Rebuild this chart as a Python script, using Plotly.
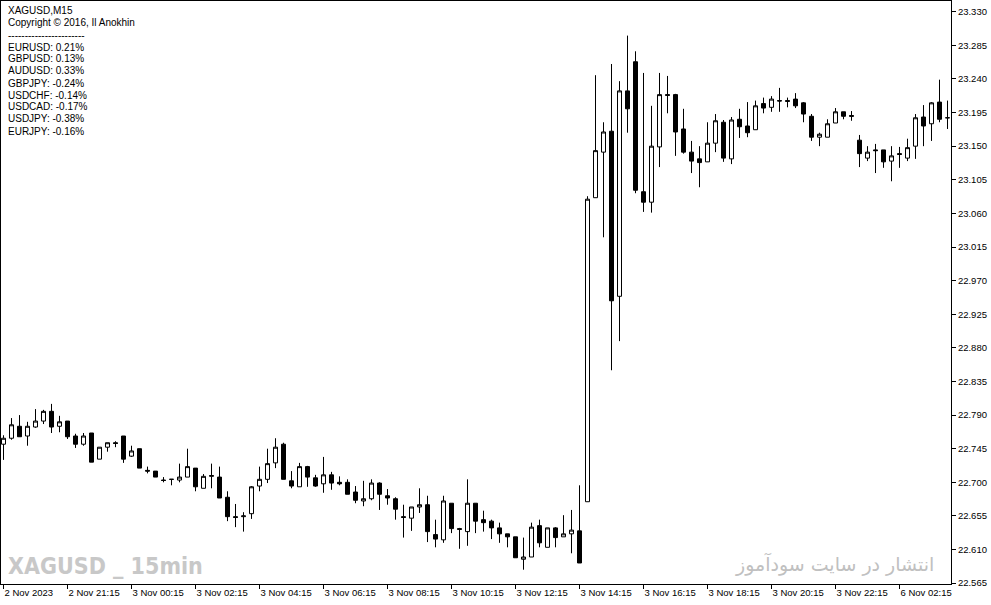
import plotly.graph_objects as go

# ---------------- data (XAGUSD, M15) ----------------
opens = [22.751, 22.759, 22.775, 22.762, 22.774, 22.782, 22.795, 22.775, 22.782, 22.762,
         22.751, 22.766, 22.731, 22.747, 22.753, 22.762, 22.735, 22.745, 22.716, 22.715,
         22.703, 22.704, 22.703, 22.707, 22.719, 22.692, 22.708, 22.707, 22.680, 22.654,
         22.654, 22.658, 22.695, 22.704, 22.726, 22.751, 22.702, 22.694, 22.721, 22.706,
         22.698, 22.710, 22.700, 22.700, 22.687, 22.675, 22.678, 22.699, 22.682, 22.678,
         22.654, 22.652, 22.667, 22.670, 22.630, 22.623, 22.672, 22.638, 22.634, 22.672,
         22.650, 22.648, 22.639, 22.631, 22.627, 22.597, 22.600, 22.642, 22.613, 22.639,
         22.627, 22.631, 22.635, 22.674, 23.081, 23.142, 23.170, 22.949, 23.224, 23.263,
         23.089, 23.075, 23.149, 23.219, 23.219, 23.173, 23.142, 23.133, 23.129, 23.154,
         23.182, 23.133, 23.186, 23.177, 23.172, 23.207, 23.202, 23.211, 23.211, 23.213,
         23.208, 23.190, 23.162, 23.162, 23.181, 23.196, 23.191, 23.158, 23.134, 23.145,
         23.145, 23.130, 23.140, 23.134, 23.150, 23.189, 23.180, 23.209, 23.188]
highs = [22.763, 22.786, 22.790, 22.781, 22.798, 22.797, 22.805, 22.789, 22.782, 22.765,
         22.766, 22.766, 22.747, 22.753, 22.755, 22.762, 22.749, 22.745, 22.721, 22.715,
         22.707, 22.704, 22.725, 22.745, 22.719, 22.711, 22.725, 22.721, 22.688, 22.671,
         22.660, 22.695, 22.721, 22.745, 22.759, 22.753, 22.715, 22.726, 22.722, 22.710,
         22.734, 22.714, 22.708, 22.704, 22.695, 22.702, 22.704, 22.700, 22.691, 22.680,
         22.670, 22.667, 22.692, 22.682, 22.650, 22.682, 22.672, 22.639, 22.704, 22.672,
         22.662, 22.650, 22.646, 22.631, 22.627, 22.626, 22.646, 22.650, 22.639, 22.640,
         22.656, 22.663, 22.696, 23.083, 23.245, 23.182, 23.260, 23.237, 23.298, 23.277,
         23.248, 23.204, 23.248, 23.244, 23.220, 23.200, 23.157, 23.150, 23.182, 23.193,
         23.185, 23.189, 23.200, 23.209, 23.211, 23.215, 23.217, 23.228, 23.215, 23.221,
         23.209, 23.193, 23.168, 23.186, 23.201, 23.196, 23.197, 23.165, 23.150, 23.153,
         23.145, 23.150, 23.149, 23.160, 23.193, 23.205, 23.209, 23.239, 23.211]
lows = [22.730, 22.757, 22.761, 22.749, 22.773, 22.778, 22.766, 22.767, 22.758, 22.746,
        22.749, 22.727, 22.731, 22.741, 22.747, 22.726, 22.734, 22.719, 22.712, 22.707,
        22.700, 22.696, 22.700, 22.707, 22.688, 22.692, 22.692, 22.679, 22.648, 22.640,
        22.634, 22.651, 22.688, 22.699, 22.719, 22.704, 22.692, 22.694, 22.694, 22.694,
        22.686, 22.690, 22.696, 22.684, 22.672, 22.668, 22.676, 22.663, 22.670, 22.650,
        22.626, 22.635, 22.659, 22.620, 22.613, 22.619, 22.632, 22.611, 22.615, 22.632,
        22.634, 22.624, 22.619, 22.613, 22.599, 22.583, 22.600, 22.613, 22.613, 22.613,
        22.627, 22.605, 22.592, 22.674, 23.081, 23.028, 22.850, 22.889, 23.168, 23.087,
        23.062, 23.061, 23.122, 23.194, 23.137, 23.140, 23.114, 23.095, 23.129, 23.142,
        23.129, 23.126, 23.161, 23.162, 23.172, 23.194, 23.196, 23.196, 23.202, 23.201,
        23.182, 23.157, 23.150, 23.162, 23.181, 23.186, 23.184, 23.122, 23.130, 23.114,
        23.121, 23.103, 23.121, 23.130, 23.133, 23.150, 23.157, 23.182, 23.173]
closes = [22.759, 22.777, 22.761, 22.775, 22.782, 22.795, 22.774, 22.781, 22.761, 22.751,
          22.762, 22.727, 22.747, 22.753, 22.752, 22.731, 22.742, 22.719, 22.715, 22.707,
          22.7025, 22.704, 22.707, 22.721, 22.694, 22.708, 22.709, 22.679, 22.654, 22.653,
          22.655, 22.694, 22.704, 22.725, 22.747, 22.704, 22.695, 22.721, 22.707, 22.695,
          22.710, 22.699, 22.698, 22.684, 22.676, 22.678, 22.699, 22.684, 22.679, 22.664,
          22.653, 22.667, 22.670, 22.634, 22.624, 22.675, 22.638, 22.637, 22.672, 22.648,
          22.646, 22.639, 22.631, 22.627, 22.599, 22.600, 22.640, 22.619, 22.639, 22.626,
          22.631, 22.636, 22.592, 23.079, 23.144, 23.169, 22.943, 23.224, 23.200, 23.091,
          23.075, 23.150, 23.219, 23.218, 23.169, 23.142, 23.130, 23.128, 23.154, 23.184,
          23.134, 23.185, 23.176, 23.168, 23.204, 23.201, 23.213, 23.2105, 23.210, 23.204,
          23.193, 23.162, 23.166, 23.180, 23.196, 23.190, 23.190, 23.140, 23.142, 23.144,
          23.129, 23.137, 23.139, 23.148, 23.188, 23.177, 23.208, 23.186, 23.188]

bar_index = list(range(len(opens)))
time_tick_index = [0, 8, 16, 24, 32, 40, 48, 56, 64, 72, 80, 88, 96, 104, 112]
time_tick_labels = ["2 Nov 2023", "2 Nov 21:15", "3 Nov 00:15", "3 Nov 02:15", "3 Nov 04:15",
                    "3 Nov 06:15", "3 Nov 08:15", "3 Nov 10:15", "3 Nov 12:15", "3 Nov 14:15",
                    "3 Nov 16:15", "3 Nov 18:15", "3 Nov 20:15", "3 Nov 22:15", "6 Nov 02:15"]
price_ticks = [22.565, 22.610, 22.655, 22.700, 22.745, 22.790, 22.835, 22.880, 22.925,
               22.970, 23.015, 23.060, 23.105, 23.150, 23.195, 23.240, 23.285, 23.330]
header_lines = ["XAGUSD,M15", "Copyright \u00a9 2016, Il Anokhin", "-" * 23]
pair_names = ["EURUSD", "GBPUSD", "AUDUSD", "GBPJPY", "USDCHF", "USDCAD", "USDJPY", "EURJPY"]
pair_changes = ["0.21%", "0.13%", "0.33%", "-0.24%", "-0.14%", "-0.17%", "-0.38%", "-0.16%"]

# ---------------- layout geometry ----------------
W, H = 991, 605
ML, MR, MT, MB = 1, 40, 1, 21
PW, PH = W - ML - MR, H - MT - MB


def px_x(px):
    return (px - ML) / PW


def px_y(py):
    return (H - MB - py) / PH


FONT = "Liberation Sans, Arial, sans-serif"

fig = go.Figure()
fig.add_trace(go.Candlestick(
    x=bar_index, open=opens, high=highs, low=lows, close=closes,
    increasing=dict(line=dict(color="black", width=1), fillcolor="white"),
    decreasing=dict(line=dict(color="black", width=1), fillcolor="black"),
    whiskerwidth=0, hoverinfo="skip", showlegend=False,
))

annotations = []
text_lines = header_lines + [f"{n}: {c}" for n, c in zip(pair_names, pair_changes)]
for k, t in enumerate(text_lines):
    annotations.append(dict(
        text=t, xref="paper", yref="paper", x=px_x(6), y=px_y(11 + 12 * k),
        xanchor="left", yanchor="middle", showarrow=False,
        font=dict(family=FONT, size=10, color="black")))

annotations.append(dict(
    text="<b>XAGUSD _ 15min</b>", xref="paper", yref="paper", x=px_x(6), y=px_y(566),
    xanchor="left", yanchor="middle", showarrow=False,
    font=dict(family="DejaVu Sans Condensed, sans-serif", size=23, color="#c8c8c8")))
annotations.append(dict(
    text="انتشار در سایت سودآموز", xref="paper", yref="paper", x=px_x(936), y=px_y(564),
    xanchor="right", yanchor="middle", showarrow=False,
    font=dict(family="DejaVu Sans, sans-serif", size=19, color="#c0c0c0")))

fig.update_layout(
    width=W, height=H,
    margin=dict(l=ML, r=MR, t=MT, b=MB, pad=0, autoexpand=False),
    paper_bgcolor="white", plot_bgcolor="white",
    boxgap=0.5, boxgroupgap=0,
    showlegend=False,
    annotations=annotations,
    font=dict(family=FONT, size=10, color="black"),
)
x0 = -(3.5 - ML) / 8
fig.update_xaxes(
    range=[x0, x0 + PW / 8], rangeslider=dict(visible=False), automargin=False,
    tickmode="array", tickvals=time_tick_index, ticktext=time_tick_labels,
    ticks="outside", ticklen=4, tickcolor="black", tickwidth=1,
    ticklabelposition="outside right",
    showgrid=False, zeroline=False,
    showline=True, linecolor="black", linewidth=1, mirror=True,
    tickfont=dict(family=FONT, size=9.5, color="black"),
)
ppx = 747.0
y_top = 23.330 + (11.7 - MT) / ppx
fig.update_yaxes(
    range=[y_top - PH / ppx, y_top], side="right", automargin=False,
    tickmode="array", tickvals=price_ticks, ticktext=[f"{v:.3f}" for v in price_ticks],
    ticks="outside", ticklen=4, tickcolor="black", tickwidth=1,
    showgrid=False, zeroline=False,
    showline=True, linecolor="black", linewidth=1, mirror=True,
    tickfont=dict(family=FONT, size=9.5, color="black"),
)

fig.write_html(
    "out.html",
    config={"displayModeBar": False},
    post_script="document.body.style.margin='0';document.body.style.padding='0';",
)
